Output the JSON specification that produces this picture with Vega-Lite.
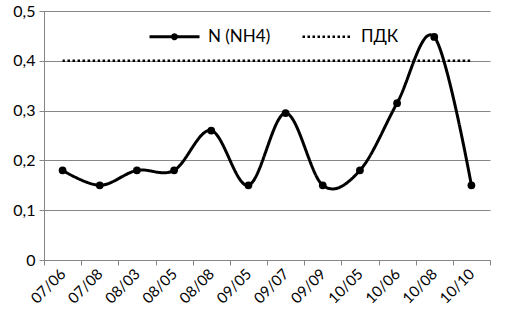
{
  "$schema": "https://vega.github.io/schema/vega-lite/v6.json",
  "width": 446,
  "height": 249,
  "autosize": {"type": "none"},
  "padding": {"left": 44, "top": 11, "right": 19, "bottom": 64},
  "background": "white",
  "config": {
    "view": {"stroke": null},
    "font": "Lato",
    "axis": {"labelFont": "Lato", "labelColor": "#000000"}
  },
  "data": {
    "values": [
      {"date": "07/06", "series": "N (NH4)", "value": 0.18},
      {"date": "07/08", "series": "N (NH4)", "value": 0.15},
      {"date": "08/03", "series": "N (NH4)", "value": 0.18},
      {"date": "08/05", "series": "N (NH4)", "value": 0.18},
      {"date": "08/08", "series": "N (NH4)", "value": 0.26},
      {"date": "09/05", "series": "N (NH4)", "value": 0.15},
      {"date": "09/07", "series": "N (NH4)", "value": 0.295},
      {"date": "09/09", "series": "N (NH4)", "value": 0.15},
      {"date": "10/05", "series": "N (NH4)", "value": 0.18},
      {"date": "10/06", "series": "N (NH4)", "value": 0.315},
      {"date": "10/08", "series": "N (NH4)", "value": 0.448},
      {"date": "10/10", "series": "N (NH4)", "value": 0.15},
      {"date": "07/06", "series": "ПДК", "value": 0.4},
      {"date": "07/08", "series": "ПДК", "value": 0.4},
      {"date": "08/03", "series": "ПДК", "value": 0.4},
      {"date": "08/05", "series": "ПДК", "value": 0.4},
      {"date": "08/08", "series": "ПДК", "value": 0.4},
      {"date": "09/05", "series": "ПДК", "value": 0.4},
      {"date": "09/07", "series": "ПДК", "value": 0.4},
      {"date": "09/09", "series": "ПДК", "value": 0.4},
      {"date": "10/05", "series": "ПДК", "value": 0.4},
      {"date": "10/06", "series": "ПДК", "value": 0.4},
      {"date": "10/08", "series": "ПДК", "value": 0.4},
      {"date": "10/10", "series": "ПДК", "value": 0.4}
    ]
  },
  "encoding": {
    "x": {
      "field": "date",
      "type": "ordinal",
      "sort": null,
      "scale": {"type": "band", "paddingInner": 0, "paddingOuter": 0},
      "axis": {
        "title": null,
        "tickBand": "extent",
        "labelAngle": -45,
        "labelAlign": "right",
        "labelBaseline": "middle",
        "labelFontSize": 15,
        "labelPadding": 6,
        "domainColor": "#868686",
        "tickColor": "#868686",
        "tickSize": 5,
        "grid": false
      }
    },
    "y": {
      "field": "value",
      "type": "quantitative",
      "scale": {"domain": [0, 0.5], "nice": false},
      "axis": {
        "title": null,
        "values": [0, 0.1, 0.2, 0.3, 0.4, 0.5],
        "labelExpr": "datum.value == 0 ? '0' : replace(format(datum.value, '.1f'), '.', ',')",
        "labelFontSize": 16,
        "labelPadding": 4,
        "domainColor": "#868686",
        "tickColor": "#868686",
        "tickSize": 5,
        "gridColor": "#868686",
        "gridWidth": 1
      }
    }
  },
  "layer": [
    {
      "mark": {"type": "line", "interpolate": "cardinal", "color": "black"},
      "encoding": {
        "detail": {"field": "series"},
        "strokeDash": {
          "field": "series",
          "type": "nominal",
          "scale": {"domain": ["N (NH4)", "ПДК"], "range": [[1, 0], [2.5, 2.5]]},
          "legend": {
            "title": null,
            "orient": "none",
            "legendX": 104,
            "legendY": -1,
            "direction": "horizontal",
            "columns": 2,
            "columnPadding": 26,
            "symbolType": "stroke",
            "symbolSize": 2500,
            "symbolStrokeColor": "black",
            "symbolStrokeWidth": 3,
            "labelFontSize": 17,
            "labelFont": "Lato",
            "labelOffset": 7,
            "padding": 0,
            "encode": {
              "symbols": {
                "update": {
                  "shape": {"signal": "datum.value == 'N (NH4)' ? 'M-1,0H1M-0.08,0A0.08,0.08,0,1,1,0.08,0A0.08,0.08,0,1,1,-0.08,0' : 'stroke'"}
                }
              }
            }
          }
        },
        "strokeWidth": {
          "field": "series",
          "type": "nominal",
          "scale": {"domain": ["N (NH4)", "ПДК"], "range": [3, 2.5]},
          "legend": null
        }
      }
    },
    {
      "transform": [{"filter": "datum.series == 'N (NH4)'"}],
      "mark": {"type": "point", "filled": true, "color": "black", "size": 60, "opacity": 1}
    }
  ]
}
